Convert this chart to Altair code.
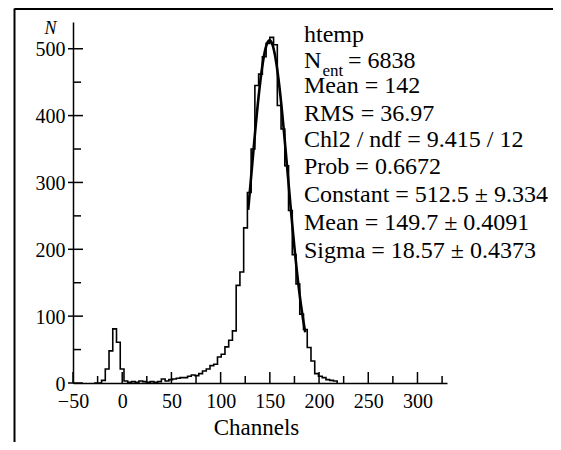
import altair as alt
import numpy as np
import pandas as pd

# ---------------- data ----------------
bin_low = -24.8          # left edge of first bin (channels)
bin_width = 3.8          # channels per bin
counts = [0, 4, 21, 48, 81, 61, 21, 3, 1, 2, 1, 3, 2, 1, 2, 1, 2, 6, 3, 5,
          6, 7, 8, 8, 10, 12, 11, 14, 18, 21, 26, 28, 39, 43, 54, 64, 78,
          146, 166, 232, 285, 350, 445, 462, 488, 508, 517, 506, 415, 380,
          325, 258, 192, 148, 103, 80, 53, 33, 14, 10, 8, 5, 4, 3]

# Gaussian fit parameters (from the stats box) and visible fit range
fit_constant = 512.5
fit_mean = 149.7
fit_sigma = 18.57
fit_range = [128, 186]

x_major = [-50, 0, 50, 100, 150, 200, 250, 300]
x_minor = [-25, 25, 75, 125, 175, 225, 275, 325]
y_major = [0, 100, 200, 300, 400, 500]
y_minor = [50, 150, 250, 350, 450]

stats_lines = ["htemp", "N", "Mean = 142", "RMS = 36.97", "Chl2 / ndf = 9.415 / 12",
               "Prob = 0.6672", "Constant = 512.5 \u00b1 9.334",
               "Mean = 149.7 \u00b1 0.4091", "Sigma = 18.57 \u00b1 0.4373"]
nent_sub = "ent"
nent_value = "= 6838"

# ---------------- layout ----------------
W, H = 374, 361
X0, Y0 = 73, 22          # page position of plot origin
FONT = "Liberation Serif"

# histogram outline as step line
edges = [bin_low + bin_width * i for i in range(len(counts) + 1)]
hx = [edges[0] - bin_width] + edges[:-1] + [edges[-1]]
hy = [0] + counts + [0]
hist_df = pd.DataFrame({"x": hx, "y": hy})

fx = np.linspace(fit_range[0], fit_range[1], 200)
fit_df = pd.DataFrame({"x": fx,
                       "y": fit_constant * np.exp(-0.5 * ((fx - fit_mean) / fit_sigma) ** 2)})

xs = alt.Scale(domain=[-50, 330], nice=False, zero=False)
ys = alt.Scale(domain=[0, 540], nice=False, zero=False)

hist = alt.Chart(hist_df).mark_line(interpolate="step-after", color="black",
                                    strokeWidth=1.6).encode(
    x=alt.X("x:Q", scale=xs, axis=alt.Axis(
        values=x_major, ticks=False, tickSize=0, grid=False, labelPadding=8,
        labelFlush=False, labelOverlap=False,
        labelFont=FONT, labelFontSize=20, labelColor="black",
        domainColor="black", domainWidth=1.5,
        title="Channels", titleFont=FONT, titleFontSize=23, titleFontWeight="normal",
        titleColor="black", titleX=183, titleY=51, titleBaseline="alphabetic",
        titleAnchor="start", titleAlign="center")),
    y=alt.Y("y:Q", scale=ys, axis=alt.Axis(
        values=y_major, ticks=False, tickSize=0, grid=False, labelPadding=8,
        labelFlush=False, labelOverlap=False, labelOffset=1,
        labelFont=FONT, labelFontSize=20, labelColor="black",
        domainColor="black", domainWidth=1.5,
        title="N", titleFont=FONT, titleFontSize=18, titleFontStyle="italic",
        titleFontWeight="normal", titleColor="black", titleAngle=0,
        titleX=-23, titleY=11, titleBaseline="alphabetic", titleAlign="center")),
    order="index:Q",
).transform_window(index="row_number()")

fit = alt.Chart(fit_df).mark_line(color="black", strokeWidth=2.6).encode(
    x=alt.X("x:Q", scale=xs), y=alt.Y("y:Q", scale=ys))

ymaj = alt.Chart(pd.DataFrame({"v": y_major})).mark_rule(color="black", strokeWidth=1.5).encode(
    y=alt.Y("v:Q", scale=ys), x=alt.value(-5), x2=alt.value(10))
ymin = alt.Chart(pd.DataFrame({"v": y_minor})).mark_rule(color="black", strokeWidth=1.5).encode(
    y=alt.Y("v:Q", scale=ys), x=alt.value(0), x2=alt.value(8))
xmaj = alt.Chart(pd.DataFrame({"v": x_major})).mark_rule(color="black", strokeWidth=1.5).encode(
    x=alt.X("v:Q", scale=xs), y=alt.value(H), y2=alt.value(H - 11))
xmin = alt.Chart(pd.DataFrame({"v": x_minor})).mark_rule(color="black", strokeWidth=1.5).encode(
    x=alt.X("v:Q", scale=xs), y=alt.value(H), y2=alt.value(H - 7))

# stats box text
baselines = [41.7, 68.3, 93.3, 120.7, 146.7, 174, 202.3, 230, 258.3]
tx = 304 - X0
layers = []
for line, b in zip(stats_lines, baselines):
    layers.append(alt.Chart(pd.DataFrame({"t": [line]})).mark_text(
        align="left", baseline="alphabetic", font=FONT, fontSize=24, color="black").encode(
        x=alt.value(tx), y=alt.value(b - Y0), text="t:N"))
layers.append(alt.Chart(pd.DataFrame({"t": [nent_sub]})).mark_text(
    align="left", baseline="alphabetic", font=FONT, fontSize=17, color="black").encode(
    x=alt.value(322.5 - X0), y=alt.value(75.5 - Y0), text="t:N"))
layers.append(alt.Chart(pd.DataFrame({"t": [nent_value]})).mark_text(
    align="left", baseline="alphabetic", font=FONT, fontSize=24, color="black").encode(
    x=alt.value(348 - X0), y=alt.value(68.3 - Y0), text="t:N"))

# outer frame (left and top edges of the original figure box)
frame_left = alt.Chart(pd.DataFrame({"a": [0]})).mark_rule(color="black", strokeWidth=2).encode(
    x=alt.value(14.5 - X0), y=alt.value(8.5 - Y0), y2=alt.value(H + 80))
frame_top = alt.Chart(pd.DataFrame({"a": [0]})).mark_rule(color="black", strokeWidth=2).encode(
    x=alt.value(14.5 - X0), x2=alt.value(W + 120), y=alt.value(9 - Y0))

chart = alt.layer(hist, fit, ymaj, ymin, xmaj, xmin, *layers, frame_left, frame_top).properties(
    width=W, height=H,
    padding={"left": X0 - 8, "top": Y0 - 8, "right": 106, "bottom": 59},
    autosize=alt.AutoSizeParams(type="none"),
    background="white",
).configure_view(stroke=None)

chart.save("out.html", embed_options={"renderer": "svg", "actions": False})
